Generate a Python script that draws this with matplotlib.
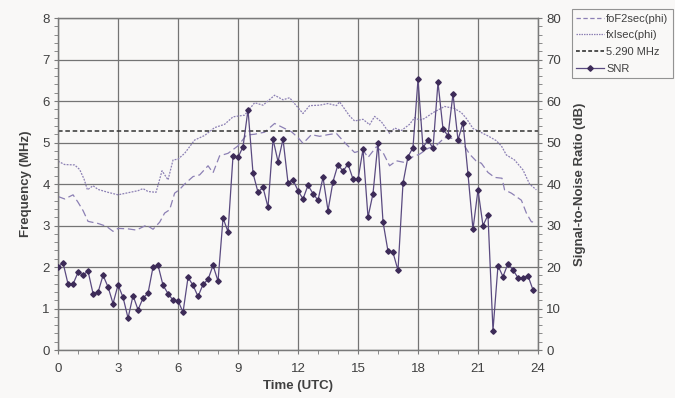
import numpy as np
import matplotlib
matplotlib.use("Agg")
import matplotlib.pyplot as plt
from matplotlib.ticker import MultipleLocator
from matplotlib.lines import Line2D

plt.rcParams['font.family'] = ['Liberation Sans', 'DejaVu Sans']

# ---- data ----
snr_hours = np.arange(0, 24, 0.25)
snr_db = [20.0, 21.0, 15.9, 15.9, 18.7, 18.1, 19.0, 13.6, 13.9, 18.0, 15.2, 11.2,
          15.7, 12.7, 7.7, 13.1, 9.7, 12.5, 13.7, 20.0, 20.4, 15.6, 13.6, 12.0,
          11.9, 9.1, 17.5, 15.6, 12.9, 15.8, 17.0, 20.4, 16.6, 31.8, 28.5, 46.8,
          46.4, 49.0, 57.9, 42.6, 38.0, 39.2, 34.4, 50.8, 45.4, 50.8, 40.3, 41.0,
          38.4, 36.4, 39.7, 37.7, 36.1, 41.6, 33.6, 40.6, 44.7, 43.1, 44.8, 41.2,
          41.1, 48.4, 32.0, 37.7, 50.0, 30.9, 23.8, 23.5, 19.2, 40.2, 46.6, 48.8,
          65.2, 48.8, 50.6, 48.6, 64.5, 53.3, 51.6, 61.7, 50.6, 54.8, 42.4, 29.1,
          38.6, 30.0, 32.5, 4.7, 20.3, 17.7, 20.8, 19.3, 17.4, 17.4, 17.9, 14.5]

fxi_hours = [0.0, 0.33, 0.83, 1.08, 1.3, 1.47, 1.75, 2.0, 2.5, 3.0, 3.5, 4.0, 4.25,
             4.5, 4.9, 5.2, 5.5, 5.75, 6.0, 6.33, 6.83, 7.33, 7.83, 8.33, 8.75,
             9.33, 9.83, 10.25, 10.83, 11.25, 11.58, 12.0, 12.25, 12.58, 13.08,
             13.5, 13.92, 14.08, 14.58, 14.83, 15.25, 15.58, 15.83, 16.17, 16.58,
             16.83, 17.17, 17.58, 17.83, 18.08, 18.33, 18.75, 19.33, 19.83, 20.17,
             20.42, 20.75, 21.0, 21.5, 21.9, 22.17, 22.42, 22.83, 23.25, 23.58, 23.92]
fxi_mhz = [4.55, 4.47, 4.46, 4.35, 4.12, 3.86, 3.96, 3.87, 3.80, 3.74, 3.79, 3.84,
           3.89, 3.82, 3.80, 4.32, 4.10, 4.58, 4.60, 4.74, 5.06, 5.17, 5.36, 5.44,
           5.62, 5.66, 5.96, 5.90, 6.14, 6.03, 6.08, 5.84, 5.70, 5.89, 5.90, 5.94,
           5.89, 5.98, 5.64, 5.52, 5.56, 5.43, 5.63, 5.50, 5.22, 5.35, 5.29, 5.44,
           5.60, 5.54, 5.58, 5.72, 5.87, 5.82, 5.72, 5.58, 5.34, 5.28, 5.16, 5.05,
           4.92, 4.70, 4.58, 4.34, 4.00, 3.86]

fof2_hours = [0.0, 0.33, 0.75, 1.0, 1.25, 1.5, 2.0, 2.42, 2.75, 3.0, 3.5, 3.92, 4.42,
              4.75, 5.08, 5.33, 5.58, 5.83, 6.08, 6.33, 6.75, 7.08, 7.5, 7.75, 8.08,
              8.5, 9.0, 9.42, 9.83, 10.33, 10.83, 11.33, 11.67, 12.0, 12.25, 12.67,
              13.08, 13.5, 13.92, 14.33, 14.83, 15.25, 15.5, 15.92, 16.25, 16.58,
              16.92, 17.33, 17.75, 18.08, 18.5, 18.9, 19.33, 19.75, 20.0, 20.33,
              20.58, 20.9, 21.17, 21.5, 21.83, 22.2, 22.33, 22.67, 23.17, 23.42,
              23.67, 23.92]
fof2_mhz = [3.70, 3.64, 3.74, 3.56, 3.36, 3.10, 3.05, 2.98, 2.86, 2.93, 2.92, 2.89,
            3.01, 2.91, 3.08, 3.30, 3.38, 3.78, 3.87, 4.00, 4.18, 4.22, 4.44, 4.27,
            4.68, 4.74, 4.92, 5.18, 5.20, 5.25, 5.46, 5.34, 5.26, 5.12, 4.98, 5.19,
            5.15, 5.19, 5.22, 5.00, 4.76, 4.82, 4.64, 4.90, 4.76, 4.44, 4.56, 4.52,
            4.66, 4.72, 4.86, 4.92, 5.12, 5.10, 5.05, 4.92, 4.72, 4.56, 4.50, 4.28,
            4.16, 4.14, 3.86, 3.78, 3.61, 3.30, 3.09, 3.08]

ref_freq = 5.290
x_ticks = [0, 3, 6, 9, 12, 15, 18, 21, 24]

# ---- style ----
curve_col = '#8c80b4'
snr_col = '#5a4a80'
marker_col = '#3d2b58'
grid_col = '#747474'
text_col = '#404040'
bg_col = '#f9f8f7'

fig = plt.figure(figsize=(6.75, 3.98), dpi=100)
fig.patch.set_facecolor(bg_col)
ax = fig.add_axes([0.086, 0.1206, 0.711, 0.834])
ax.set_facecolor(bg_col)
ax2 = ax.twinx()

ax.plot(fof2_hours, fof2_mhz, color=curve_col, lw=0.9, dashes=(6, 3), zorder=3)
ax.plot(fxi_hours, fxi_mhz, color=curve_col, lw=0.9, dashes=(1.5, 1), zorder=3)
ax.axhline(ref_freq, color='#333333', lw=1.1, dashes=(3, 1.8), zorder=3)
ax2.plot(snr_hours, snr_db, color=snr_col, lw=0.9, marker='D', markersize=2.8,
         markerfacecolor=marker_col, markeredgecolor=marker_col, zorder=4)

ax.set_xlim(0, 24)
ax.set_ylim(0, 8)
ax2.set_ylim(0, 80)
ax.set_xticks(x_ticks)
ax.xaxis.set_minor_locator(MultipleLocator(1))
ax.yaxis.set_major_locator(MultipleLocator(1))
ax.yaxis.set_minor_locator(MultipleLocator(0.2))
ax2.yaxis.set_major_locator(MultipleLocator(10))
ax2.yaxis.set_minor_locator(MultipleLocator(2))

ax.grid(True, which='major', color=grid_col, lw=0.9, zorder=0)
ax.set_axisbelow(True)

for a in (ax, ax2):
    for s in a.spines.values():
        s.set_color('#7a7a7a')
        s.set_linewidth(0.9)
    a.tick_params(which='both', direction='out', colors='#7a7a7a',
                  labelcolor=text_col, labelsize=9.5, length=2.6)
ax.tick_params(axis='x', pad=7)

ax.set_xlabel('Time (UTC)', fontsize=9.5, fontweight='bold', color=text_col, labelpad=3)
ax.set_ylabel('Frequency (MHz)', fontsize=9.5, fontweight='bold', color=text_col, labelpad=7)
ax2.set_ylabel('Signal-to-Noise Ratio (dB)', fontsize=9.5, fontweight='bold',
               color=text_col, labelpad=9)

handles = [
    Line2D([], [], color=curve_col, lw=0.9, dashes=(3.5, 2)),
    Line2D([], [], color=curve_col, lw=0.9, dashes=(1.2, 0.8)),
    Line2D([], [], color='#222222', lw=1.1, dashes=(2.5, 1.5)),
    Line2D([], [], color=snr_col, lw=0.9, marker='D', markersize=2.8,
           markerfacecolor=marker_col, markeredgecolor=marker_col),
]
labels = ['foF2sec(phi)', 'fxIsec(phi)', '5.290 MHz', 'SNR']
leg = fig.legend(handles, labels, loc='upper left', bbox_to_anchor=(0.847, 0.977),
                 fontsize=8, frameon=True, fancybox=False, handlelength=2.5,
                 handletextpad=0.2, borderpad=0.4, labelspacing=0.6, borderaxespad=0)
leg.get_frame().set_edgecolor('#7a7a7a')
leg.get_frame().set_facecolor(bg_col)
leg.get_frame().set_linewidth(0.8)
for t in leg.get_texts():
    t.set_color(text_col)

fig.savefig('out.png', dpi=100, facecolor=fig.get_facecolor())
